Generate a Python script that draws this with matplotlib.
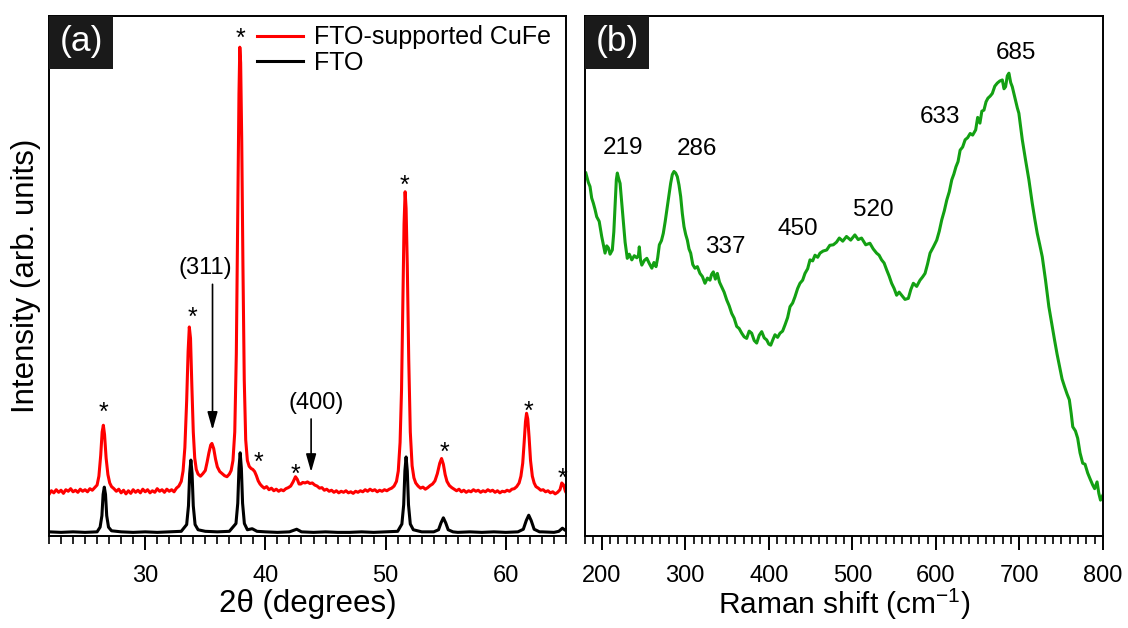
import numpy as np
import matplotlib
matplotlib.use('Agg')
import matplotlib.pyplot as plt
from matplotlib.lines import Line2D
from matplotlib.patches import Rectangle

plt.rcParams['font.family'] = ['Liberation Sans', 'DejaVu Sans']
plt.rcParams['mathtext.fontset'] = 'custom'
plt.rcParams['mathtext.rm'] = 'Liberation Sans'
plt.rcParams['mathtext.it'] = 'Liberation Sans:italic'

# XRD, FTO-supported CuFe (red)
red_x = [22.0, 22.2, 22.4, 22.6, 22.8, 23.0, 23.2, 23.4, 23.6, 23.8,
         24.0, 24.2, 24.4, 24.6, 24.8, 25.0, 25.2, 25.4, 25.6, 25.8,
         26.0, 26.15, 26.3, 26.42, 26.52, 26.62, 26.75, 26.9, 27.05, 27.2,
         27.4, 27.6, 27.8, 28.0, 28.2, 28.4, 28.6, 28.8, 29.0, 29.2,
         29.4, 29.6, 29.8, 30.0, 30.2, 30.4, 30.6, 30.8, 31.0, 31.2,
         31.4, 31.6, 31.8, 32.0, 32.2, 32.4, 32.6, 32.8, 33.0, 33.15,
         33.3, 33.45, 33.57, 33.67, 33.77, 33.88, 34.0, 34.12, 34.25, 34.4,
         34.6, 34.8, 35.0, 35.15, 35.3, 35.45, 35.55, 35.7, 35.85, 36.0,
         36.2, 36.4, 36.6, 36.8, 37.0, 37.15, 37.3, 37.45, 37.58, 37.7,
         37.8, 37.87, 37.94, 38.03, 38.13, 38.24, 38.36, 38.5, 38.65, 38.8,
         38.95, 39.1, 39.25, 39.4, 39.55, 39.7, 39.9, 40.1, 40.3, 40.5,
         40.7, 40.9, 41.1, 41.3, 41.5, 41.7, 41.9, 42.1, 42.3, 42.5,
         42.65, 42.8, 42.95, 43.1, 43.3, 43.5, 43.7, 43.9, 44.1, 44.3,
         44.5, 44.7, 44.9, 45.1, 45.3, 45.5, 45.7, 45.9, 46.1, 46.3,
         46.5, 46.7, 46.9, 47.1, 47.3, 47.5, 47.7, 47.9, 48.1, 48.3,
         48.5, 48.7, 48.9, 49.1, 49.3, 49.5, 49.7, 49.9, 50.1, 50.3,
         50.5, 50.7, 50.9, 51.05, 51.2, 51.32, 51.43, 51.53, 51.62, 51.7,
         51.8, 51.92, 52.05, 52.2, 52.35, 52.5, 52.7, 52.9, 53.1, 53.3,
         53.5, 53.7, 53.9, 54.1, 54.3, 54.5, 54.65, 54.8, 54.95, 55.1,
         55.3, 55.5, 55.7, 55.9, 56.1, 56.3, 56.5, 56.7, 56.9, 57.1,
         57.3, 57.5, 57.7, 57.9, 58.1, 58.3, 58.5, 58.7, 58.9, 59.1,
         59.3, 59.5, 59.7, 59.9, 60.1, 60.3, 60.5, 60.7, 60.9, 61.1,
         61.25, 61.4, 61.52, 61.63, 61.72, 61.82, 61.93, 62.05, 62.2, 62.35,
         62.5, 62.7, 62.9, 63.1, 63.3, 63.5, 63.7, 63.9, 64.1, 64.3,
         64.5, 64.65, 64.8, 64.95, 65.0]
red_y = [8.0, 8.7, 8.3, 8.9, 8.4, 8.8, 8.2, 8.9, 8.6, 9.1,
         8.5, 8.8, 8.4, 9.0, 8.6, 8.9, 8.5, 9.1, 8.8, 9.3,
         9.8, 11.5, 15.5, 20.0, 21.3, 19.5, 15.0, 11.8, 10.2, 9.5,
         9.1, 8.6, 9.0, 8.3, 8.8, 8.1, 8.7, 8.2, 8.9, 8.4,
         8.8, 8.3, 9.0, 8.5, 8.9, 8.3, 8.7, 8.4, 9.1, 8.6,
         8.9, 8.4, 9.0, 8.6, 8.9, 8.5, 9.2, 9.6, 10.5, 12.5,
         17.0, 26.0, 35.5, 40.2, 38.0, 29.0, 20.0, 15.0, 12.8, 11.9,
         11.5, 12.0, 12.6, 14.2, 16.0, 17.5, 17.8, 16.8, 14.8, 13.3,
         12.4, 12.0, 11.6, 11.4, 11.9, 12.6, 14.5, 20.0, 35.0, 62.0,
         85.0, 94.0, 91.0, 76.0, 52.0, 30.0, 18.5, 14.5, 13.4, 13.0,
         12.8, 12.4, 11.6, 10.6, 10.0, 9.6, 9.2, 9.5, 8.9, 9.2,
         8.7, 9.0, 8.6, 8.9, 8.7, 9.1, 9.3, 9.6, 10.4, 11.4,
         10.9, 10.0, 10.0, 10.3, 10.2, 10.4, 10.1, 10.2, 9.8, 9.6,
         9.2, 9.3, 8.8, 9.0, 8.6, 8.8, 8.4, 8.7, 8.3, 8.6,
         8.4, 8.7, 8.3, 8.5, 8.2, 8.6, 8.4, 8.7, 8.5, 8.9,
         8.6, 9.0, 8.7, 8.9, 8.5, 8.8, 8.6, 8.9, 8.7, 9.0,
         9.2, 9.6, 10.5, 12.5, 18.0, 28.0, 45.0, 60.0, 66.2, 63.0,
         52.0, 34.0, 20.0, 13.5, 11.2, 10.2, 9.6, 9.2, 9.4, 9.0,
         9.3, 9.7, 10.0, 10.6, 12.0, 14.0, 14.9, 13.8, 11.8, 10.5,
         9.7, 9.3, 9.0, 8.7, 9.0, 8.5, 8.8, 8.4, 8.7, 8.5,
         8.9, 8.6, 8.8, 8.4, 8.7, 8.5, 8.9, 8.6, 8.8, 8.4,
         8.7, 8.3, 8.6, 8.5, 8.8, 8.6, 9.0, 9.1, 9.5, 10.2,
         11.5, 14.0, 18.0, 22.0, 23.6, 22.5, 19.0, 14.5, 11.5, 10.2,
         9.5, 9.2, 8.8, 8.9, 8.5, 8.7, 8.3, 8.5, 8.1, 8.4,
         8.9, 10.2, 9.8, 8.6, 8.4]

# XRD, bare FTO (black)
black_x = [22.0, 23.0, 24.0, 25.0, 26.0, 26.25, 26.4, 26.5, 26.6, 26.7,
           26.8, 26.95, 27.2, 28.0, 29.0, 30.0, 31.0, 32.0, 33.0, 33.45,
           33.6, 33.7, 33.8, 33.9, 34.0, 34.15, 34.4, 35.0, 36.0, 37.0,
           37.55, 37.7, 37.8, 37.9, 38.0, 38.1, 38.25, 38.5, 38.9, 39.3,
           40.0, 41.0, 42.0, 42.6, 43.0, 44.0, 45.0, 46.0, 47.0, 48.0,
           49.0, 50.0, 51.0, 51.35, 51.5, 51.6, 51.7, 51.8, 51.9, 52.05,
           52.3, 53.0, 54.0, 54.4, 54.6, 54.8, 55.0, 55.2, 55.6, 56.0,
           57.0, 58.0, 59.0, 60.0, 61.0, 61.45, 61.7, 61.9, 62.1, 62.35,
           62.8, 63.0, 64.0, 64.4, 64.7, 65.0]
black_y = [0.8, 0.7, 0.8, 0.7, 0.8, 1.7, 3.9, 8.0, 9.4, 8.0,
           3.9, 1.7, 1.0, 0.8, 0.7, 0.8, 0.7, 0.8, 0.9, 2.2,
           5.8, 12.0, 14.6, 12.0, 5.8, 2.2, 1.2, 0.9, 0.8, 0.9,
           2.4, 6.3, 13.0, 16.0, 13.0, 6.3, 2.4, 1.2, 1.4, 0.9,
           0.8, 0.7, 0.8, 1.3, 0.8, 0.7, 0.8, 0.7, 0.7, 0.8,
           0.7, 0.8, 0.9, 2.3, 6.0, 12.5, 15.2, 12.5, 6.0, 2.3,
           1.2, 0.8, 0.8, 1.2, 2.5, 3.5, 2.5, 1.2, 0.8, 0.7,
           0.8, 0.7, 0.8, 0.7, 0.8, 1.3, 3.0, 4.0, 3.0, 1.3,
           0.8, 0.8, 0.7, 0.9, 1.5, 1.0]

# asterisks over FTO reflections
star_x = [26.5, 33.9, 37.9, 39.4, 42.5, 51.6, 54.9, 61.9, 64.7]
star_y = [25.2, 43.5, 97.1, 15.6, 13.3, 68.8, 17.5, 25.4, 12.6]

# Raman spectrum (green)
raman_x = [181, 184, 186, 188, 190, 192, 194, 197, 200, 202,
           204, 206, 208, 210, 212.7, 214.5, 216, 217.5, 218.7, 220,
           222, 224, 226, 228, 230.6, 233, 236, 239, 242, 244,
           245, 246.5, 248, 251, 254, 257, 260, 262.5, 265, 267,
           269, 271.5, 273.7, 276, 278.5, 280.5, 282.5, 284.5, 286.5, 288.5,
           290.5, 292.5, 294.5, 296.5, 298.5, 300.5, 302.5, 304.5, 306.5, 309,
           311.6, 314.5, 317.6, 320.5, 323.6, 326.5, 329.6, 331.5, 333.6, 336,
           338.4, 341, 343.6, 346.5, 349.6, 352.5, 355.6, 358.5, 361.6, 364.5,
           367.6, 370.5, 373.5, 376.5, 379.5, 382.5, 385.5, 388.5, 391.5, 394.5,
           397.5, 400, 402.3, 405, 407.4, 410.5, 413.4, 416.5, 419.4, 422.5,
           425.4, 428.5, 431.3, 434.5, 437.3, 440.5, 443.3, 446.5, 449.3, 452.5,
           455.3, 458.5, 461.3, 465, 469.3, 473, 477.2, 481, 484.4, 488.5,
           493, 498, 503, 507, 511, 516, 521, 525, 529, 532,
           535, 538, 541, 544, 547, 550, 553, 556, 559, 563,
           567, 570, 573, 577, 581, 584, 587, 590, 593, 597,
           601, 604, 607, 610, 613, 616, 619, 621.5, 624, 626.5,
           629, 632, 635, 638, 641, 644, 647.6, 650, 652.7, 655,
           657.5, 660, 662.3, 665, 667.5, 670.5, 673.5, 676.5, 679.5, 681.5,
           683.4, 685.5, 687.4, 689.5, 691.4, 693.5, 695.3, 697.5, 699.3, 703.4,
           707.3, 711.3, 715.3, 718.3, 721.3, 724.3, 727.3, 731.2, 735.2, 739.2,
           742, 745, 748, 751, 754, 757, 759.7, 762, 763.8, 767,
           769.7, 772.5, 775.7, 778.5, 781.7, 784.5, 787.7, 790, 792.9, 795,
           797, 800]
raman_y = [69.8, 68.0, 67.2, 65.0, 64.0, 62.8, 61.4, 60.5, 57.6, 56.0,
           54.4, 55.8, 55.4, 54.2, 55.0, 58.5, 63.3, 68.5, 69.8, 68.9,
           67.8, 64.0, 60.1, 56.5, 53.4, 54.2, 53.1, 53.9, 53.5, 54.0,
           55.6, 53.0, 52.1, 53.0, 53.4, 52.4, 51.5, 52.6, 51.8, 53.5,
           56.0, 56.8, 58.2, 60.5, 63.3, 65.5, 67.8, 69.5, 70.1, 69.8,
           69.1, 67.5, 65.3, 62.0, 59.5, 58.0, 56.9, 55.2, 54.4, 52.2,
           51.5, 51.8, 50.5, 49.9, 48.6, 49.6, 49.2, 50.3, 50.8, 49.4,
           50.5, 48.8, 47.9, 46.9, 45.4, 44.3, 42.8, 41.9, 40.3, 39.9,
           39.0, 38.3, 38.0, 39.4, 39.0, 37.6, 37.1, 38.6, 39.3, 38.1,
           37.7, 36.9, 36.7, 37.8, 38.7, 38.2, 39.0, 39.4, 40.6, 42.0,
           44.1, 44.8, 46.0, 47.6, 48.6, 49.2, 50.5, 51.4, 53.1, 52.9,
           54.0, 53.6, 54.4, 54.8, 55.0, 55.9, 56.0, 56.5, 57.3, 56.7,
           57.6, 56.9, 57.9, 57.0, 57.3, 56.0, 56.3, 55.2, 54.4, 54.0,
           53.1, 52.5, 51.2, 50.0, 48.6, 47.6, 46.3, 46.9, 46.3, 45.5,
           45.7, 47.4, 48.6, 48.0, 49.2, 49.8, 50.5, 52.3, 54.4, 55.6,
           56.9, 58.6, 60.8, 62.5, 64.6, 66.2, 68.5, 69.6, 71.0, 72.0,
           74.2, 74.8, 76.2, 76.6, 77.4, 77.1, 78.1, 80.5, 79.4, 81.7,
           81.9, 83.5, 84.2, 84.6, 85.1, 86.5, 87.1, 87.5, 87.7, 86.0,
           86.4, 88.5, 89.0, 87.2, 86.4, 85.0, 83.8, 82.3, 81.3, 76.2,
           72.3, 68.5, 64.0, 61.0, 58.2, 56.0, 53.7, 49.2, 44.1, 40.3,
           37.7, 35.0, 32.6, 30.2, 28.7, 27.3, 26.2, 23.5, 21.0, 20.2,
           18.8, 16.0, 14.0, 13.8, 12.1, 11.0, 9.8, 9.1, 10.4, 8.2,
           6.9, 7.9]

raman_labels = ['219', '286', '337', '450', '520', '633', '685']
raman_label_x = [225, 314, 348, 435, 525, 605, 696]
raman_label_y = [74.6, 74.4, 55.6, 59.0, 62.7, 80.6, 92.9]

red = '#ff0000'
green = '#13a013'

fig = plt.figure(figsize=(11.28, 6.28), dpi=100)
ax1 = fig.add_axes([49 / 1128, 1 - 536 / 628, 517 / 1128, 520 / 628])
ax2 = fig.add_axes([585 / 1128, 1 - 536 / 628, 518 / 1128, 520 / 628])

# ---- panel (a): XRD ----
ax1.plot(black_x, black_y, color='black', lw=2.2)
ax1.plot(red_x, red_y, color=red, lw=2.2)
for sx, sy in zip(star_x, star_y):
    ax1.text(sx, sy - 2.9, '*', ha='center', va='baseline', fontsize=18)

ax1.annotate('', xy=(35.6, 20.4), xytext=(35.6, 48.4),
             arrowprops=dict(arrowstyle='-|>,head_length=0.6,head_width=0.17',
                             color='black', lw=1.2, mutation_scale=18, shrinkA=0, shrinkB=0))
ax1.text(35.0, 51.5, '(311)', ha='center', va='center', fontsize=17)
ax1.annotate('', xy=(43.8, 12.3), xytext=(43.8, 22.5),
             arrowprops=dict(arrowstyle='-|>,head_length=0.6,head_width=0.17',
                             color='black', lw=1.2, mutation_scale=18, shrinkA=0, shrinkB=0))
ax1.text(44.2, 25.6, '(400)', ha='center', va='center', fontsize=17)

handles = [Line2D([], [], color=red, lw=2.2), Line2D([], [], color='black', lw=2.2)]
ax1.legend(handles, ['FTO-supported CuFe', 'FTO'], loc='upper left',
           bbox_to_anchor=(0.402, 0.982), frameon=False, fontsize=18,
           handlelength=1.85, handletextpad=0.45, labelspacing=0.05,
           borderpad=0, borderaxespad=0)

ax1.set_xlim(22, 65)
ax1.set_ylim(0, 100)
ax1.set_xticks([30, 40, 50, 60])
ax1.set_xticks(np.arange(22, 66, 1), minor=True)
ax1.set_yticks([])
ax1.set_xlabel('2θ (degrees)', fontsize=22.5, labelpad=1)
ax1.set_ylabel('Intensity (arb. units)', fontsize=22.5, labelpad=6)

# ---- panel (b): Raman ----
ax2.plot(raman_x, raman_y, color=green, lw=2.2)
for lab, lx, ly in zip(raman_labels, raman_label_x, raman_label_y):
    ax2.text(lx, ly, lab, ha='center', va='center', fontsize=17.5)

ax2.set_xlim(180, 800)
ax2.set_ylim(0, 100)
ax2.set_xticks([200, 300, 400, 500, 600, 700, 800])
ax2.set_xticks(np.arange(180, 801, 10), minor=True)
ax2.set_yticks([])
ax2.set_xlabel('Raman shift (cm$^{-1}$)', fontsize=21.5, labelpad=0)

for ax, tag in [(ax1, '(a)'), (ax2, '(b)')]:
    ax.add_patch(Rectangle((0, 0.898), 0.124, 0.102, transform=ax.transAxes,
                           facecolor='#1a1a1a', edgecolor='none', zorder=5))
    ax.text(0.062, 0.951, tag, transform=ax.transAxes, ha='center', va='center',
            color='white', fontsize=25.5, zorder=6)
    for sp in ax.spines.values():
        sp.set_linewidth(1.4)
    ax.tick_params(axis='x', which='major', direction='out', length=10, width=1.4,
                   labelsize=17, pad=11)
    ax.tick_params(axis='x', which='minor', direction='out', length=6, width=1.2)

fig.savefig('out.png', dpi=100)
